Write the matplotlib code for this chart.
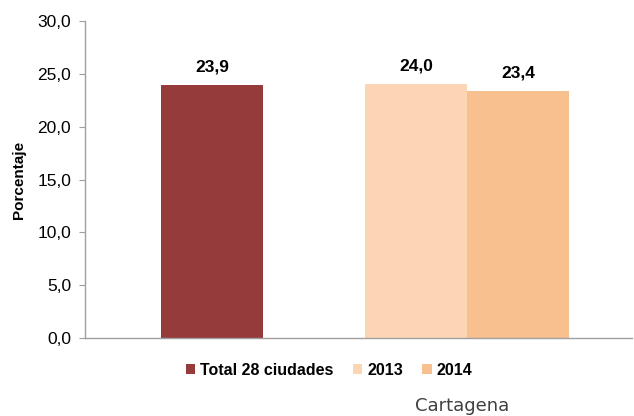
import matplotlib
matplotlib.use("Agg")
import matplotlib.pyplot as plt
from matplotlib.patches import Patch

# data
series = ["Total 28 ciudades", "2013", "2014"]
values = [23.9, 24.0, 23.4]
colors = ["#953b3b", "#fcd5b4", "#f9c08f"]
yticks = [0, 5, 10, 15, 20, 25, 30]
city = "Cartagena"

plt.rcParams['font.family'] = ['Liberation Sans', 'DejaVu Sans']

fig = plt.figure(figsize=(6.34, 4.16), dpi=100)
ax = fig.add_axes([0.134, 0.1875, 0.863, 0.762])

# bar positions: total on its own, city years side by side
positions = [0, 2.0, 3.0]
width = 1.0
bars = ax.bar(positions, values, width=width, color=colors, edgecolor="none")

for bar, v in zip(bars, values):
    ax.text(bar.get_x() + bar.get_width() / 2, v + 1.0, f"{v:.1f}".replace(".", ","),
            ha="center", va="bottom", fontsize=12.5, fontweight="bold")

ax.set_xlim(-1.245, 4.12)
ax.set_ylim(0, 30)
ax.set_yticks(yticks)
ax.set_yticklabels([f"{t:.1f}".replace(".", ",") for t in yticks], fontsize=12.5)
ax.set_xticks([])
ax.set_ylabel("Porcentaje", fontsize=11, fontweight="bold", labelpad=8)

for s in ["top", "right"]:
    ax.spines[s].set_visible(False)
for s in ["left", "bottom"]:
    ax.spines[s].set_color("#a0a0a0")
    ax.spines[s].set_linewidth(1.0)
ax.tick_params(axis="y", color="#a0a0a0", length=4, pad=6)

handles = [Patch(facecolor=c, edgecolor="none") for c in colors]
fig.legend(handles, series, loc="center", bbox_to_anchor=(0.519, 0.11), ncol=3,
           frameon=False, prop={"weight": "bold", "size": 11.5},
           handlelength=0.6, handleheight=0.6, handletextpad=0.3, columnspacing=1.2)

fig.text(0.729, 0.025, city, ha="center", va="center", fontsize=13,
         color="#404040", family=["DejaVu Sans"])

fig.savefig("out.png", dpi=100)
